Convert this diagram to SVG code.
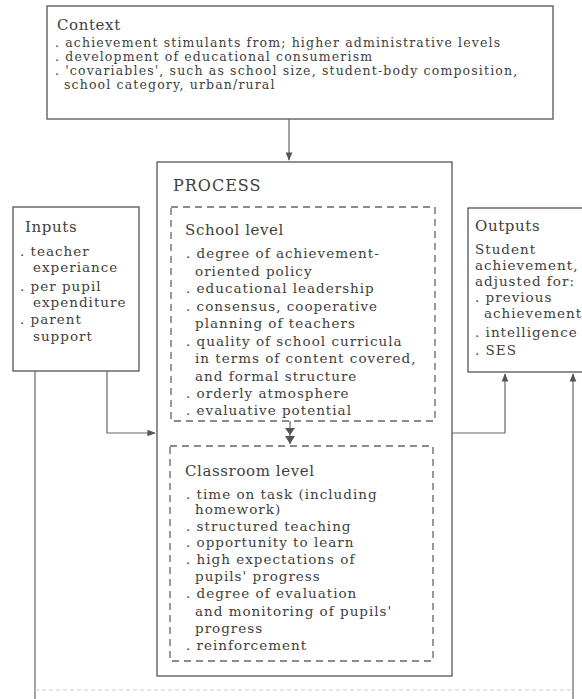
<svg xmlns="http://www.w3.org/2000/svg" width="582" height="699" viewBox="0 0 582 699">
<defs>
<style>
.box{fill:none;stroke:#555;stroke-width:1.3}
.dash{fill:none;stroke:#666;stroke-width:1.3;stroke-dasharray:7 5}
.conn{fill:none;stroke:#666;stroke-width:1.2}
.faint{fill:none;stroke:#ccc;stroke-width:1;stroke-dasharray:4 3}
text{font-family:"DejaVu Serif","Liberation Serif",serif;fill:#404040}
.t{font-size:13.5px;letter-spacing:1px}
.tc{font-size:12.5px;letter-spacing:1.15px}
.h{font-size:15px;letter-spacing:0.6px}
.hp{font-size:16px;letter-spacing:1px}
</style>
<marker id="ah" viewBox="0 0 10 10" refX="9" refY="5" markerWidth="7" markerHeight="7" orient="auto">
<path d="M0,1 L10,5 L0,9 z" fill="#555"/>
</marker>
</defs>
<rect width="582" height="699" fill="#fff"/>

<g id="context">
<rect class="box" x="47" y="6" width="506" height="113"/>
<text class="h" x="57" y="30">Context</text>
<text class="tc" x="55" y="47">. achievement stimulants from; higher administrative levels</text>
<text class="tc" x="55" y="61">. development of educational consumerism</text>
<text class="tc" x="55" y="75">. 'covariables', such as school size, student-body composition,</text>
<text class="tc" x="64" y="89">school category, urban/rural</text>
</g>

<g id="process">
<rect class="box" x="157" y="162" width="295" height="514"/>
<text class="hp" x="173" y="191">PROCESS</text>
</g>

<g id="school-level">
<rect class="dash" x="171" y="207" width="264" height="214"/>
<text class="h" x="185" y="235">School level</text>
<g class="t">
<text x="186" y="258">. degree of achievement-</text>
<text x="195" y="276">oriented policy</text>
<text x="186" y="293">. educational leadership</text>
<text x="186" y="311">. consensus, cooperative</text>
<text x="195" y="328">planning of teachers</text>
<text x="186" y="346">. quality of school curricula</text>
<text x="195" y="363">in terms of content covered,</text>
<text x="195" y="381">and formal structure</text>
<text x="186" y="398">. orderly atmosphere</text>
<text x="186" y="415">. evaluative potential</text>
</g>
</g>

<g id="classroom-level">
<rect class="dash" x="170" y="446" width="263" height="215"/>
<text class="h" x="185" y="476">Classroom level</text>
<g class="t">
<text x="186" y="499">. time on task (including</text>
<text x="195" y="514">homework)</text>
<text x="186" y="531">. structured teaching</text>
<text x="186" y="547">. opportunity to learn</text>
<text x="186" y="564">. high expectations of</text>
<text x="195" y="581">pupils' progress</text>
<text x="186" y="598">. degree of evaluation</text>
<text x="195" y="616">and monitoring of pupils'</text>
<text x="195" y="633">progress</text>
<text x="186" y="650">. reinforcement</text>
</g>
</g>

<g id="inputs">
<rect class="box" x="13" y="207" width="126" height="164"/>
<text class="h" x="25" y="232">Inputs</text>
<g class="t">
<text x="20" y="256">. teacher</text>
<text x="33" y="272">experiance</text>
<text x="20" y="291">. per pupil</text>
<text x="33" y="307">expenditure</text>
<text x="20" y="324">. parent</text>
<text x="33" y="341">support</text>
</g>
</g>

<g id="outputs">
<rect class="box" x="468" y="208" width="140" height="164"/>
<text class="h" x="475" y="231">Outputs</text>
<g class="t">
<text x="475" y="254">Student</text>
<text x="475" y="270">achievement,</text>
<text x="475" y="286">adjusted for:</text>
<text x="475" y="302">. previous</text>
<text x="484" y="318">achievement</text>
<text x="475" y="337">. intelligence</text>
<text x="475" y="355">. SES</text>
</g>
</g>

<g id="connectors">
<path class="conn" d="M289,119 V160" marker-end="url(#ah)"/>
<path class="conn" d="M107,371 V433 H155" marker-end="url(#ah)"/>
<path class="conn" d="M452,433 H505 V374" marker-end="url(#ah)"/>
<path class="conn" d="M35,371 V699"/>
<path class="conn" d="M573,699 V374" marker-end="url(#ah)"/>
<path class="faint" d="M35,690 H573"/>
<path class="conn" d="M290,421 V444"/>
<path d="M285,428 L295,428 L290,435 z" fill="#555"/>
<path d="M285,436 L295,436 L290,444 z" fill="#555"/>
</g>
</svg>
